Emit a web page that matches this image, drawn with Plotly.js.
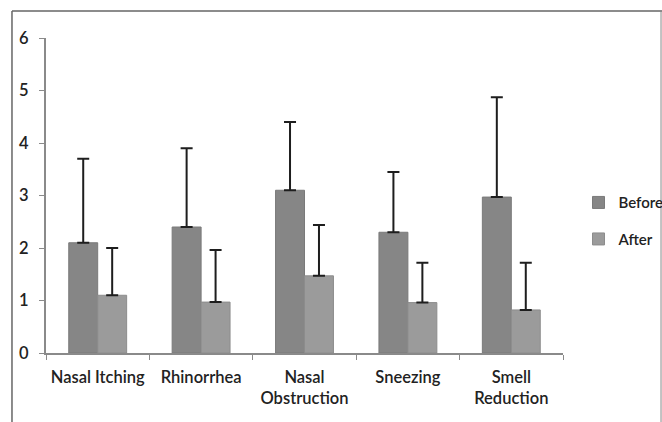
<!DOCTYPE html>
<html>
<head>
<meta charset="utf-8">
<script src="https://cdn.plot.ly/plotly-3.0.1.min.js"></script>
<style>html,body{margin:0;padding:0;background:#fff;}#chart{width:662px;height:422px;}</style>
</head>
<body>
<div id="chart"></div>
<script>
var categories = ['Nasal Itching', 'Rhinorrhea', 'Nasal Obstruction', 'Sneezing', 'Smell Reduction'];
var tickLabels = ['Nasal Itching', 'Rhinorrhea', 'Nasal<br>Obstruction', 'Sneezing', 'Smell<br>Reduction'];
var beforeValues = [2.1, 2.4, 3.1, 2.3, 2.97];
var beforeSD = [1.6, 1.5, 1.3, 1.15, 1.9];
var afterValues = [1.1, 0.97, 1.47, 0.96, 0.82];
var afterSD = [0.9, 0.99, 0.97, 0.76, 0.9];
var zeros = [0, 0, 0, 0, 0];
var yTicks = [0, 1, 2, 3, 4, 5, 6];

var errStyle = {color: '#1e1e1e', thickness: 2, width: 6};
var txtFont = {family: 'Lato, sans-serif', size: 16.5, color: '#222222', weight: 600};

var traces = [
  {
    type: 'bar', name: 'Before', x: categories, y: beforeValues,
    legendgroup: 'b',
    marker: {color: '#868686', line: {color: '#7a7a7a', width: 1}},
    error_y: Object.assign({type: 'data', symmetric: false, array: beforeSD, arrayminus: zeros}, errStyle)
  },
  {
    type: 'bar', name: 'After', x: categories, y: afterValues,
    legendgroup: 'a',
    marker: {color: '#9b9b9b', line: {color: '#8c8c8c', width: 1}},
    error_y: Object.assign({type: 'data', symmetric: false, array: afterSD, arrayminus: zeros}, errStyle)
  }
];

var layout = {
  width: 662, height: 422,
  margin: {l: 46, r: 99, t: 38, b: 69, autoexpand: false},
  paper_bgcolor: '#ffffff', plot_bgcolor: '#ffffff',
  font: txtFont,
  barmode: 'group', bargap: 0.44, bargroupgap: 0,
  showlegend: true,
  legend: {x: 1.03, xanchor: 'left', y: 0.42, yanchor: 'middle', traceorder: 'grouped', tracegroupgap: 14,
           font: {family: 'Lato, sans-serif', size: 15, color: '#222222', weight: 600}, itemwidth: 30, bgcolor: 'rgba(0,0,0,0)'},
  xaxis: {
    type: 'category', tickvals: categories, ticktext: tickLabels,
    showline: true, linecolor: '#8a8a8a', linewidth: 2,
    ticks: 'outside', tickson: 'boundaries', ticklen: 5, tickcolor: '#8a8a8a', tickwidth: 1,
    showgrid: false, zeroline: false, automargin: false, ticklabelstandoff: 8,
    tickfont: txtFont
  },
  yaxis: {
    range: [0, 6], tickvals: yTicks,
    showline: true, linecolor: '#8a8a8a', linewidth: 2,
    ticks: 'outside', ticklen: 5, tickcolor: '#8a8a8a', tickwidth: 1,
    showgrid: false, zeroline: false, automargin: false, ticklabelstandoff: 7,
    tickfont: txtFont
  },
  shapes: [
    {type: 'line', xref: 'paper', yref: 'paper', x0: -0.0658, x1: 1.2, y0: 1.0857, y1: 1.0857, line: {color: '#666666', width: 1.5}},
    {type: 'line', xref: 'paper', yref: 'paper', x0: -0.0658, x1: -0.0658, y0: 1.0857, y1: -0.3, line: {color: '#666666', width: 1.5}},
    {type: 'line', xref: 'paper', yref: 'paper', x0: 1.1896, x1: 1.1896, y0: 1.0857, y1: -0.3, line: {color: '#888888', width: 1}}
  ]
};

Plotly.newPlot('chart', traces, layout, {displayModeBar: false, staticPlot: true});
</script>
</body>
</html>
